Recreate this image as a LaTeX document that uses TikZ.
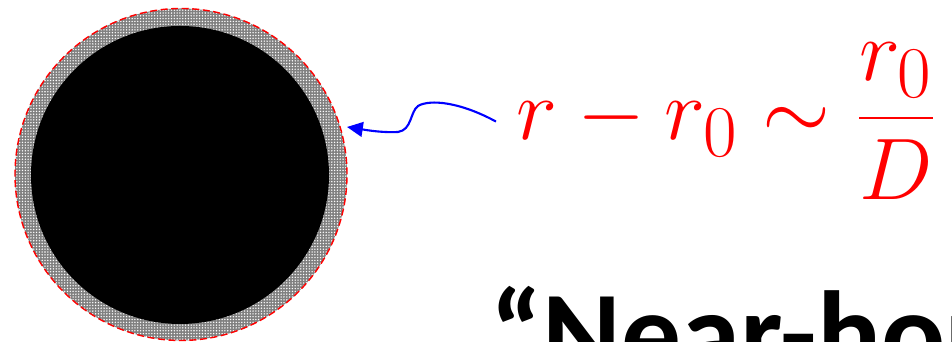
\documentclass[tikz,border=0pt]{standalone}
\usepackage{fontspec}
\newfontfamily\headfont{Carlito}
\usetikzlibrary{arrows.meta,patterns.meta}

\begin{document}
\begin{tikzpicture}[>={Triangle[length=4.5pt,width=4.2pt]},
  shell/.style={pattern={Dots[distance=0.8pt,radius=0.22pt]},pattern color=white},
  eqn/.style={red,inner sep=0pt,font=\fontsize{31.5}{34}\selectfont}]
\useasboundingbox (0,0) rectangle (9.52,3.42);
\clip (0,0) rectangle (9.52,3.42);

\fill[gray] (1.81,1.675) circle (1.66);
\fill[shell] (1.81,1.675) circle (1.66);
\fill[black] (1.80,1.67) circle (1.49);
\draw[red,dash pattern=on 2pt off 1pt,line width=0.4pt] (1.81,1.675) circle (1.66);

\node[eqn,anchor=base west] (eq) at (5.16,2.02) {$\displaystyle r-r_0\sim\frac{r_0}{D}$};
\node[anchor=base west,inner sep=0pt,font=\headfont\bfseries\fontsize{34}{37}\selectfont] (title) at (4.90,-0.33) {“Near-hor};

\coordinate (tip) at (3.47,2.15);
\draw[blue,line width=0.6pt,->] ([xshift=-0.2cm]eq.west) .. controls (4.6,2.40) and (4.3,2.43) .. (4.18,2.36)
  .. controls (4.10,2.30) and (4.12,2.12) .. (3.98,2.10) .. controls (3.8,2.09) and (3.6,2.13) .. (tip);
\end{tikzpicture}
\end{document}
